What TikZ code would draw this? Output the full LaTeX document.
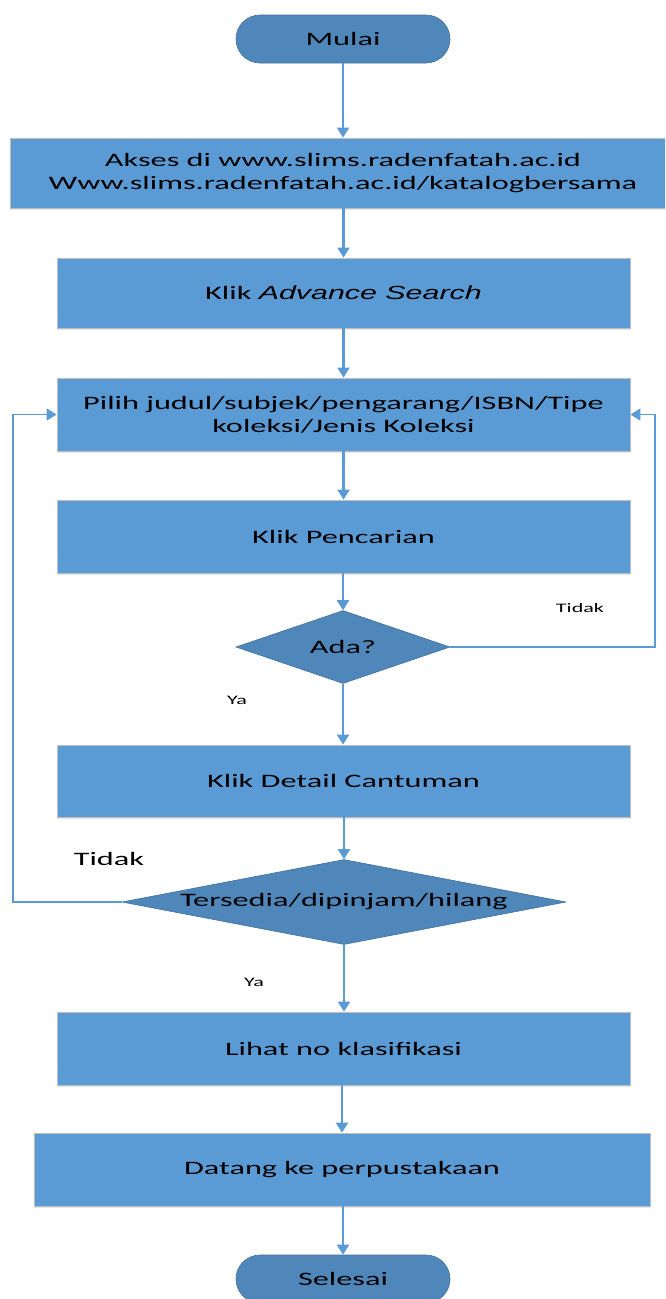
\documentclass[tikz,border=0pt]{standalone}
\usepackage{fontspec}
\setmainfont{Carlito}[FakeStretch=1.7]
\newfontfamily\arialfont{Liberation Sans}[FakeStretch=1.6]
\usetikzlibrary{arrows.meta,shapes.geometric,shadows}
\definecolor{boxblue}{HTML}{5B9BD5}
\definecolor{darkblue}{HTML}{4F87BA}
\definecolor{edgeblue}{HTML}{41719C}
\definecolor{arrowblue}{HTML}{5B9BD5}
\begin{document}
\begin{tikzpicture}[x=1pt,y=-1pt,
  mainfont/.style={font=\fontsize{19}{23}\selectfont},
  smallfont/.style={font=\fontsize{13}{15}\selectfont},
  proc/.style={rectangle, fill=boxblue, draw=black!25, line width=0.8pt,
    inner sep=0pt, align=center, mainfont,
    drop shadow={shadow xshift=0pt, shadow yshift=-2pt, opacity=0.2, fill=gray}},
  term/.style={rectangle, rounded corners=24pt, fill=darkblue, draw=edgeblue,
    line width=0.6pt, minimum width=214pt, minimum height=48pt, inner sep=0pt, mainfont},
  decision/.style={diamond, fill=darkblue, draw=edgeblue, line width=0.6pt,
    inner sep=0pt, aspect=2},
  arr/.style={draw=arrowblue, line width=2.2pt,
    -{Triangle[width=12pt,length=10pt]}},
  loopline/.style={draw=arrowblue, line width=1.6pt,
    -{Triangle[width=12pt,length=10pt]}}
]
\clip (0,0) rectangle (665,1299);
\fill[white] (0,0) rectangle (665,1299);

% nodes
\node[term] (mulai) at (343,39) {Mulai};
\node[proc, minimum width=666pt, minimum height=70pt] (b1) at (343,173)
  {Akses di www.slims.radenfatah.ac.id\\Www.slims.radenfatah.ac.id/katalogbersama};
\node[proc, minimum width=573pt, minimum height=70pt] (b2) at (343.5,293)
  {Klik {\arialfont\itshape Advance Search}};
\node[proc, minimum width=573pt, minimum height=73pt] (b3) at (343.5,414.5)
  {Pilih judul/subjek/pengarang/ISBN/Tipe\\koleksi/Jenis Koleksi};
\node[proc, minimum width=573pt, minimum height=73pt] (b4) at (343.5,536.5)
  {Klik Pencarian};
\node[decision, minimum width=214pt, minimum height=73pt] (d1) at (343,647) {};
\node[mainfont] (d1t) at (343,647) {Ada?};
\node[proc, minimum width=573pt, minimum height=72pt] (b5) at (343.5,781)
  {Klik Detail Cantuman};
\node[decision, minimum width=444pt, minimum height=85pt] (d2) at (344,902) {};
\node[mainfont] (d2t) at (344,902) {Tersedia/dipinjam/hilang};
\node[proc, minimum width=573pt, minimum height=73pt] (b6) at (343.5,1048.5)
  {Lihat no klasifikasi};
\node[proc, minimum width=616pt, minimum height=73pt] (b7) at (342,1169.5)
  {Datang ke perpustakaan};
\node[term] (selesai) at (343,1279) {Selesai};

% labels
\node[smallfont] (tidak1) at (580,608) {Tidak};
\node[smallfont] (ya1) at (237,700) {Ya};
\node[mainfont] (tidak2) at (109,859) {Tidak};
\node[smallfont] (ya2) at (254,982) {Ya};

% loop corner coordinates
\coordinate (rtop) at (655,414.5);
\coordinate (ltop) at (13,414.5);

% connectors
\draw[arr] (mulai.south) -- (mulai.south |- b1.north);
\draw[arr] (b1.south -| b2.north) -- (b2.north);
\draw[arr] (b2.south) -- (b3.north);
\draw[arr] (b3.south) -- (b4.north);
\draw[arr] (b4.south -| d1.north) -- (d1.north);
\draw[arr] (d1.south) -- (d1.south |- b5.north);
\draw[arr] (b5.south -| d2.north) -- (d2.north);
\draw[arr] (d2.south) -- (d2.south |- b6.north);
\draw[arr] (b6.south -| b7.north) -- (b7.north);
\draw[arr] (b7.south -| selesai.north) -- (selesai.north);
\draw[loopline] (d1.east) -- (d1.east -| rtop) -- (rtop) -- (b3.east);
\draw[loopline] (d2.west) -- (d2.west -| ltop) -- (ltop) -- (b3.west);
\end{tikzpicture}
\end{document}
